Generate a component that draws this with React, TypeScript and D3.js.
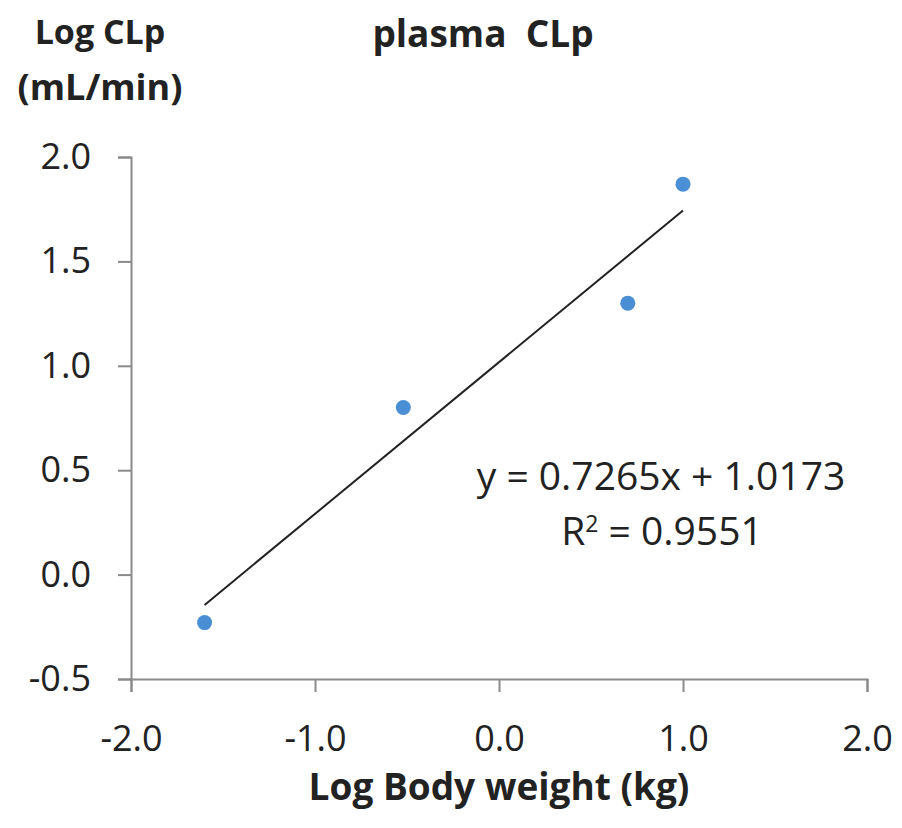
import React, { useEffect, useRef } from 'react'
import * as d3 from 'd3'

// log body weight (kg) vs log plasma CLp (mL/min)
const logBodyWeight = [-1.6, -0.52, 0.7, 1.0]
const logClp = [-0.23, 0.8, 1.3, 1.87]
const slope = 0.7265
const intercept = 1.0173
const rSquared = '0.9551'
const xTicks = [-2, -1, 0, 1, 2]
const yTicks = [-0.5, 0, 0.5, 1, 1.5, 2]

const FONT = '"Open Sans", Lato, sans-serif'
const fmt = (d: number) => d.toFixed(1) // hyphen minus, as in the original

export default function App() {
  const ref = useRef<SVGSVGElement | null>(null)

  useEffect(() => {
    const svg = d3.select(ref.current)
    svg.selectAll('*').remove()

    const x = d3.scaleLinear().domain([-2, 2]).range([131, 867])
    const y = d3.scaleLinear().domain([-0.5, 2]).range([679, 157])
    const axisColor = '#8a8a8a'

    // y axis
    const ya = svg.append('g').attr('transform', `translate(${x(-2)},0)`)
      .call(d3.axisLeft(y).tickValues(yTicks).tickSize(13).tickPadding(27).tickFormat(d => fmt(+d)))
    ya.select('.domain').attr('stroke', axisColor).attr('stroke-width', 2)
    ya.selectAll('line').attr('stroke', axisColor).attr('stroke-width', 2)
    ya.selectAll('text').attr('font-size', 36).attr('font-family', FONT).attr('fill', '#222')

    // x axis
    const xa = svg.append('g').attr('transform', `translate(0,${y(-0.5)})`)
      .call(d3.axisBottom(x).tickValues(xTicks).tickSize(13).tickPadding(33).tickFormat(d => fmt(+d)))
    xa.select('.domain').attr('stroke', axisColor).attr('stroke-width', 2)
    xa.selectAll('line').attr('stroke', axisColor).attr('stroke-width', 2)
    xa.selectAll('text').attr('font-size', 36).attr('font-family', FONT).attr('fill', '#222')

    // trend line
    const xs = d3.extent(logBodyWeight) as [number, number]
    svg.append('line')
      .attr('x1', x(xs[0])).attr('y1', y(slope * xs[0] + intercept))
      .attr('x2', x(xs[1])).attr('y2', y(slope * xs[1] + intercept))
      .attr('stroke', '#222').attr('stroke-width', 2)

    // points
    svg.selectAll('circle.pt')
      .data(logBodyWeight.map((v, i) => ({ x: v, y: logClp[i] })))
      .join('circle')
      .attr('class', 'pt')
      .attr('cx', d => x(d.x)).attr('cy', d => y(d.y))
      .attr('r', 7.5)
      .attr('fill', '#4a8fd6')

    // equation
    svg.append('text').attr('x', 661).attr('y', 490).attr('text-anchor', 'middle')
      .attr('font-family', FONT).attr('font-size', 39).attr('fill', '#222')
      .text(`y = ${slope}x + ${intercept}`)
    const r2 = svg.append('text').attr('x', 662).attr('y', 545).attr('text-anchor', 'middle')
      .attr('font-family', FONT).attr('font-size', 39).attr('fill', '#222')
    r2.append('tspan').text('R')
    r2.append('tspan').attr('dy', -13).attr('font-size', 23).text('2')
    r2.append('tspan').attr('dy', 13).text(` = ${rSquared}`)

    // titles
    const bold = (tx: number, ty: number, size: number, s: string) =>
      svg.append('text').attr('x', tx).attr('y', ty).attr('text-anchor', 'middle')
        .attr('font-family', FONT).attr('font-weight', 'bold').attr('font-size', size).attr('fill', '#222')
        .style('white-space', 'pre')
        .text(s)
    bold(483, 47, 37, 'plasma  CLp')
    bold(100, 44, 34, 'Log CLp')
    bold(100, 100, 36, '(mL/min)')
    bold(499, 800, 37, 'Log Body weight (kg)')
  }, [])

  return (
    <svg ref={ref} width={902} height={828} style={{ position: 'absolute', left: 0, top: 0, background: '#fff' }} />
  )
}
